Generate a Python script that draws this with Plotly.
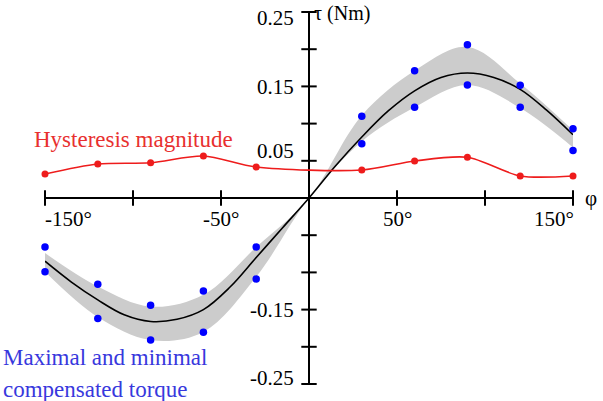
import plotly.graph_objects as go

# ---- data ----
phi_pts = [-150, -120, -90, -60, -30, 30, 60, 90, 120, 150]
tau_max = [-0.066, -0.116, -0.144, -0.125, -0.066, 0.110, 0.171, 0.206, 0.1515, 0.093]
tau_min = [-0.099, -0.162, -0.191, -0.1805, -0.109, 0.073, 0.122, 0.152, 0.122, 0.064]
hysteresis = [0.0323, 0.0457, 0.0474, 0.0565, 0.0417, 0.0376, 0.0497, 0.0547, 0.0296, 0.0296]

band_phi = [-150, -120, -90, -60, -30, 0, 30, 60, 90, 120, 150]
band_upper = [-0.074, -0.119, -0.146, -0.130, -0.066, 0.0, 0.111, 0.171, 0.203, 0.154, 0.091]
band_lower = [-0.099, -0.160, -0.191, -0.180, -0.106, 0.0, 0.076, 0.122, 0.152, 0.121, 0.068]

mean_phi = [-150, -135, -120, -105, -90, -75, -60, -45, -30, -15, 0,
            15, 30, 45, 60, 75, 90, 105, 120, 135, 150]
mean_tau = [-0.085, -0.113, -0.137, -0.157, -0.166, -0.163, -0.150, -0.120, -0.080, -0.040, 0.0,
            0.043, 0.082, 0.117, 0.144, 0.162, 0.168, 0.162, 0.146, 0.118, 0.085]

x_ticks = [-150, -100, -50, 50, 100, 150]
x_labels = {-150: "-150°", -50: "-50°", 50: "50°", 150: "150°"}
y_ticks = [-0.25, -0.2, -0.15, -0.1, -0.05, 0.05, 0.1, 0.15, 0.2, 0.25]
y_labels = {0.25: "0.25", 0.15: "0.15", 0.05: "0.05", -0.15: "-0.15", -0.25: "-0.25"}

FONT = "Liberation Serif, Times New Roman, serif"
GREY = "rgb(204,204,204)"
BLUE = "#0000ff"
RED = "#ee1c1c"

fig = go.Figure()

# grey band
fig.add_trace(go.Scatter(x=band_phi, y=band_lower, mode="lines",
                         line=dict(color=GREY, width=0, shape="spline"),
                         hoverinfo="skip", showlegend=False, cliponaxis=False))
fig.add_trace(go.Scatter(x=band_phi, y=band_upper, mode="lines", fill="tonexty",
                         fillcolor=GREY, line=dict(color=GREY, width=0, shape="spline"),
                         hoverinfo="skip", showlegend=False, cliponaxis=False))

# mean curve
fig.add_trace(go.Scatter(x=mean_phi, y=mean_tau, mode="lines",
                         line=dict(color="black", width=1.6, shape="spline"),
                         showlegend=False, cliponaxis=False))

# hysteresis
fig.add_trace(go.Scatter(x=phi_pts, y=hysteresis, mode="lines+markers",
                         line=dict(color=RED, width=1.6, shape="spline", smoothing=0.8),
                         marker=dict(color=RED, size=7),
                         showlegend=False, cliponaxis=False))

# max / min points
fig.add_trace(go.Scatter(x=phi_pts, y=tau_max, mode="markers",
                         marker=dict(color=BLUE, size=7.5), showlegend=False, cliponaxis=False))
fig.add_trace(go.Scatter(x=phi_pts, y=tau_min, mode="markers",
                         marker=dict(color=BLUE, size=7.5), showlegend=False, cliponaxis=False))

# axis tick marks
fig.add_trace(go.Scatter(x=x_ticks, y=[0] * len(x_ticks), mode="markers",
                         marker=dict(symbol="line-ns", size=11, line=dict(color="black", width=2)),
                         showlegend=False, cliponaxis=False, hoverinfo="skip"))
fig.add_trace(go.Scatter(x=[0] * len(y_ticks), y=y_ticks, mode="markers",
                         marker=dict(symbol="line-ew", size=11, line=dict(color="black", width=2)),
                         showlegend=False, cliponaxis=False, hoverinfo="skip"))

annotations = []
anch = {-150: "left", -50: "center", 50: "center", 150: "right"}
for v, t in x_labels.items():
    annotations.append(dict(x=v, y=0, text=t, showarrow=False, xanchor=anch[v], yanchor="middle",
                            yshift=-21, xshift=(-2 if v == -150 else (3 if v == 150 else 0)),
                            font=dict(family=FONT, size=21, color="black")))
yshift = {0.25: -6, 0.15: -1, 0.05: 10, -0.15: 0, -0.25: 6}
for v, t in y_labels.items():
    annotations.append(dict(x=0, y=v, text=t, showarrow=False, xanchor="right", yanchor="middle",
                            xshift=-13, yshift=yshift[v],
                            font=dict(family=FONT, size=21, color="black")))
annotations.append(dict(x=1.0, xref="paper", y=0, text="φ", showarrow=False, xanchor="left",
                        yanchor="middle", xshift=10, font=dict(family=FONT, size=21, color="black")))
annotations.append(dict(x=0, y=0.25, text="τ (Nm)", showarrow=False, xanchor="left",
                        yanchor="middle", xshift=3, yshift=-1,
                        font=dict(family=FONT, size=20, color="black")))
annotations.append(dict(x=-100, y=0.078, text="Hysteresis magnitude", showarrow=False,
                        xanchor="center", yanchor="middle",
                        font=dict(family=FONT, size=23, color="#e8302f")))
annotations.append(dict(x=-0.083, xref="paper", y=0.070, yref="paper", text="Maximal and minimal",
                        showarrow=False, xanchor="left", yanchor="middle",
                        font=dict(family=FONT, size=23, color="#3838dd")))
annotations.append(dict(x=-0.083, xref="paper", y=-0.016, yref="paper", text="compensated torque",
                        showarrow=False, xanchor="left", yanchor="middle",
                        font=dict(family=FONT, size=23, color="#3838dd")))

fig.update_layout(
    width=603, height=401,
    margin=dict(l=45, r=30, t=12, b=17),
    paper_bgcolor="white", plot_bgcolor="white",
    xaxis=dict(range=[-150, 150], showgrid=False, showticklabels=False, ticks="",
               zeroline=True, zerolinecolor="black", zerolinewidth=2, showline=False),
    yaxis=dict(range=[-0.25, 0.25], showgrid=False, showticklabels=False, ticks="",
               zeroline=True, zerolinecolor="black", zerolinewidth=2, showline=False),
    annotations=annotations,
)

fig.write_html("out.html")
